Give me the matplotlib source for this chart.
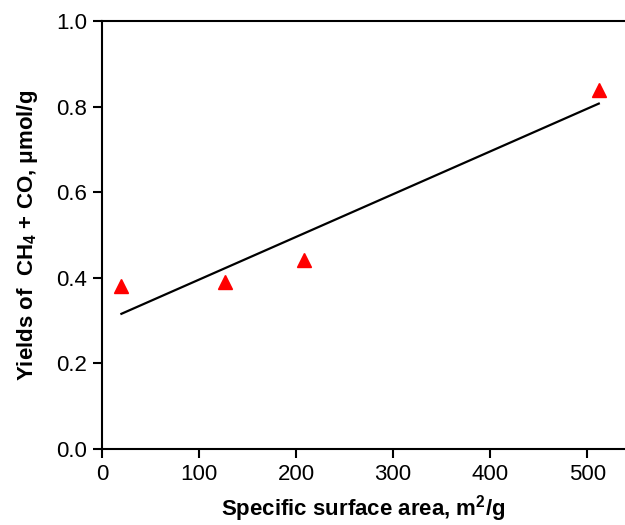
import numpy as np
import matplotlib
matplotlib.use("Agg")
import matplotlib.pyplot as plt

plt.rcParams['font.family'] = ['Liberation Sans', 'DejaVu Sans']
plt.rcParams['mathtext.fontset'] = 'custom'
plt.rcParams['mathtext.rm'] = 'Liberation Sans:bold'
plt.rcParams['mathtext.bf'] = 'Liberation Sans:bold'

# surface area (m2/g) vs yields of CH4 + CO (umol/g)
area = [20, 127, 208, 512]
yields = [0.380, 0.390, 0.441, 0.838]

slope, icpt = np.polyfit(area, yields, 1)
xfit = np.array([min(area), max(area)])

fig = plt.figure(figsize=(6.25, 5.25), dpi=100)
ax = fig.add_axes([0.1632, 0.1448, 0.8368, 0.8152])

ax.plot(xfit, slope * xfit + icpt, color='black', lw=1.6)
ax.plot(area, yields, linestyle='none', marker='^', color='red', markersize=10)

ax.set_xlim(0, 539)
ax.set_ylim(0, 1.0)
ax.set_xticks([0, 100, 200, 300, 400, 500])
ax.set_yticks([0.0, 0.2, 0.4, 0.6, 0.8, 1.0])
ax.set_yticklabels(['0.0', '0.2', '0.4', '0.6', '0.8', '1.0'])
ax.tick_params(direction='out', length=6.5, width=1.5, labelsize=16, pad=4)

ax.spines['right'].set_visible(False)
for s in ['left', 'bottom', 'top']:
    ax.spines[s].set_linewidth(1.5)

ax.set_xlabel(r'Specific surface area, m$^{\mathbf{2}}$/g', fontsize=16, fontweight='bold', labelpad=6)
ax.set_ylabel(r'Yields of  CH$_{\mathbf{4}}$ + CO, μmol/g', fontsize=16, fontweight='bold', labelpad=12)

fig.savefig('out.png', dpi=100)
